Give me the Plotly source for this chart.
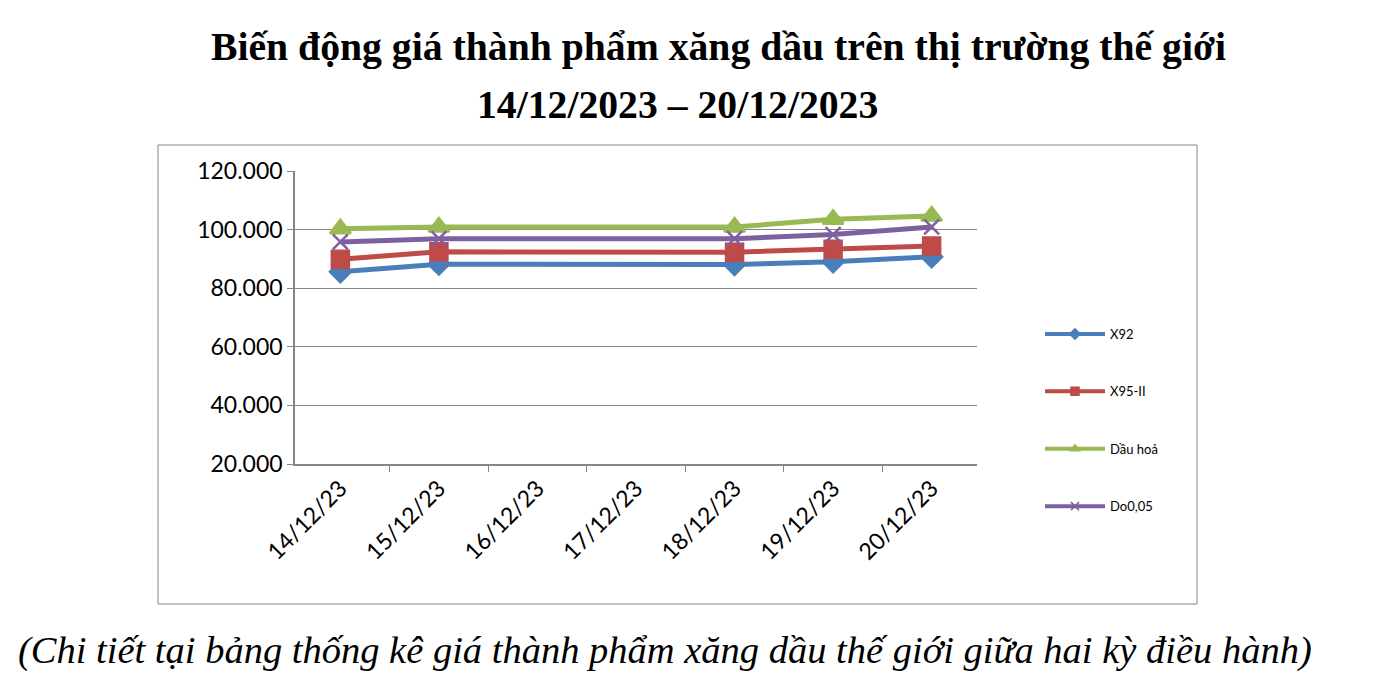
import plotly.graph_objects as go

# data (thousands separator '.')
dates = ["14/12/23", "15/12/23", "16/12/23", "17/12/23", "18/12/23", "19/12/23", "20/12/23"]
x92 = [85600, 88200, None, None, 88100, 89000, 90700]
x95 = [89900, 92400, None, None, 92300, 93300, 94400]
dau_hoa = [100300, 100900, None, None, 100900, 103500, 104600]
do005 = [95800, 96900, None, None, 96900, 98300, 100900]

series = [
    ("X92", x92, "#4A7EBB", "diamond", 16),
    ("X95-II", x95, "#BE4B48", "square", 17),
    ("Dầu hoả", dau_hoa, "#98B954", "triangle-up", 18),
    ("Do0,05", do005, "#7D60A0", "x-thin", 15),
]

# the page puts the figure 8px in from the window edge
PAD = 8
W, H = 1377 - 2 * PAD, 682 - 2 * PAD


def px(x):
    return (x - PAD) / W


def py(y):
    return 1 - (y - PAD) / H


fig = go.Figure()
for i, (name, vals, color, symbol, size) in enumerate(series):
    fig.add_trace(go.Scatter(
        x=dates, y=vals, name=name, mode="lines+markers",
        connectgaps=True, showlegend=False,
        line=dict(color=color, width=5),
        marker=dict(symbol=symbol, size=size, color=color,
                    line=dict(color=color, width=2.5)),
    ))
    # legend entry with the small markers Excel uses
    fig.add_trace(go.Scatter(
        x=[dates[0]], y=[None], name=name, mode="lines+markers",
        legendgroup=f"g{i}", hoverinfo="skip",
        line=dict(color=color, width=4),
        marker=dict(symbol=symbol, size=8, color=color,
                    line=dict(color=color, width=1.5)),
    ))

fig.update_layout(
    width=W, height=H,
    margin=dict(l=0, r=0, t=0, b=0, autoexpand=False),
    paper_bgcolor="white", plot_bgcolor="white",
    separators=",.",
    showlegend=True,
    legend=dict(x=px(1040), y=py(319), xanchor="left", yanchor="top",
                font=dict(family="Lato", size=13, color="#000000"),
                tracegroupgap=37.5, itemwidth=60, bgcolor="rgba(0,0,0,0)"),
    xaxis=dict(domain=[px(295), px(977)], type="category", automargin=False,
               tickson="boundaries", ticks="outside", ticklen=6,
               tickcolor="#868686", showline=True, linecolor="#868686",
               linewidth=1.5, tickangle=-45, showgrid=False,
               tickfont=dict(family="Lato", size=23, color="#000000")),
    yaxis=dict(domain=[py(464), py(171)], range=[20000, 120000],
               automargin=False,
               dtick=20000, tickformat=",.0f", ticks="outside", ticklen=6,
               tickcolor="#868686", showline=True, linecolor="#868686",
               linewidth=1.5, showgrid=True, gridcolor="#868686",
               gridwidth=1, zeroline=False,
               tickfont=dict(family="Lato", size=23, color="#000000")),
    shapes=[dict(type="rect", xref="paper", yref="paper",
                 x0=px(158), x1=px(1197), y0=py(604), y1=py(145),
                 line=dict(color="#868686", width=1), layer="below")],
    annotations=[
        dict(text="<b>Biến động giá thành phẩm xăng dầu trên thị trường thế giới</b>",
             x=px(718), y=py(47), xref="paper", yref="paper",
             xanchor="center", yanchor="middle",
             showarrow=False, font=dict(family="Liberation Serif", size=39.7, color="#000000")),
        dict(text="<b>14/12/2023 – 20/12/2023</b>",
             x=px(677), y=py(105), xref="paper", yref="paper",
             xanchor="center", yanchor="middle",
             showarrow=False, font=dict(family="Liberation Serif", size=39.7, color="#000000")),
        dict(text="<i>(Chi tiết tại bảng thống kê giá thành phẩm xăng dầu thế giới giữa hai kỳ điều hành)</i>",
             x=px(665), y=py(650), xref="paper", yref="paper",
             xanchor="center", yanchor="middle",
             showarrow=False, font=dict(family="Liberation Serif", size=38.5, color="#000000")),
    ],
)

fig.write_html("out.html")
